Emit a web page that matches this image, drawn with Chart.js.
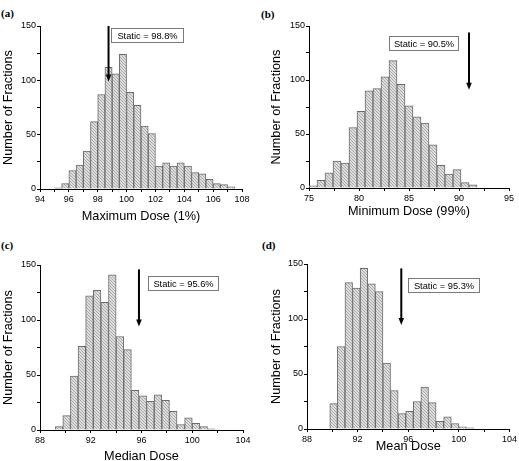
<!DOCTYPE html>
<html>
<head>
<meta charset="utf-8">
<script src="https://cdn.jsdelivr.net/npm/chart.js@4.4.1/dist/chart.umd.min.js"></script>
<style>
html, body { margin: 0; padding: 0; background: #fff; width: 519px; height: 461px; overflow: hidden; position: relative; }
canvas { position: absolute; }
.tag { position: absolute; font: bold 11px "Liberation Serif", "Times New Roman", serif; color: #000; }
</style>
</head>
<body>
<div class="tag" style="left:1px;top:7px">(a)</div>
<div class="tag" style="left:261px;top:8px">(b)</div>
<div class="tag" style="left:1px;top:239px">(c)</div>
<div class="tag" style="left:262px;top:239px">(d)</div>
<canvas id="chartMax" width="259" height="230" style="left:0;top:0"></canvas>
<canvas id="chartMin" width="260" height="230" style="left:259px;top:0"></canvas>
<canvas id="chartMedian" width="259" height="240" style="left:0;top:230px"></canvas>
<canvas id="chartMean" width="260" height="240" style="left:259px;top:230px"></canvas>
<script>
// ── dados (centros das classes e contagens) ──────────────────────────────────
const maxDoseBins   = [95.25, 95.75, 96.25, 96.75, 97.25, 97.75, 98.25, 98.75, 99.25, 99.75,
                       100.25, 100.75, 101.25, 101.75, 102.25, 102.75, 103.25, 103.75, 104.25,
                       104.75, 105.25, 105.75, 106.25, 106.75, 107.25];
const maxDoseCounts = [1, 5, 17, 22, 35, 62, 87, 112, 106, 124, 89, 77, 58, 51, 21, 24, 21, 24,
                       21, 15, 14, 9, 5, 4, 2];

const minDoseBins   = [75.4, 76.2, 77.0, 77.8, 78.6, 79.4, 80.2, 81.0, 81.8, 82.6, 83.4, 84.2,
                       85.0, 85.8, 86.6, 87.4, 88.2, 89.0, 89.8, 90.6, 91.4];
const minDoseCounts = [2, 7, 14, 25, 23, 56, 71, 90, 92, 103, 118, 96, 76, 66, 60, 40, 21, 13,
                       17, 5, 3];

const medianDoseBins   = [89.5, 90.1, 90.7, 91.3, 91.9, 92.5, 93.1, 93.7, 94.3, 94.9, 95.5,
                          96.1, 96.7, 97.3, 97.9, 98.5, 99.1, 99.7, 100.3, 100.9, 101.5];
const medianDoseCounts = [3, 13, 49, 76, 122, 127, 116, 141, 85, 73, 36, 31, 26, 32, 27, 17,
                          5, 11, 6, 3, 1];

const meanDoseBins   = [90.1, 90.7, 91.3, 91.9, 92.5, 93.1, 93.7, 94.3, 94.9, 95.5, 96.1,
                        96.7, 97.3, 97.9, 98.5, 99.1, 99.7, 100.3, 100.9];
const meanDoseCounts = [23, 75, 133, 128, 146, 132, 125, 60, 35, 14, 16, 25, 38, 24, 7, 11,
                        5, 2, 1];

// valor "static" indicado em cada painel e onde a seta está desenhada
const staticLabels = ['Static = 98.8%', 'Static = 90.5%', 'Static = 95.6%', 'Static = 95.3%'];
const arrowX       = [98.75, 91.0, 95.8, 95.45];
const arrowTop     = [150, 144, 146, 146];
const arrowTip     = [99, 91, 94, 94.5];

const yTicks = [0, 50, 100, 150];

const FONT = '"Liberation Sans", Arial, sans-serif';

// padrão tracejado fino das barras (cinzento claro com riscas "\")
function makeHatch() {
  const c = document.createElement('canvas');
  c.width = 3; c.height = 3;
  const g = c.getContext('2d');
  g.fillStyle = '#dddddd';
  g.fillRect(0, 0, 3, 3);
  g.fillStyle = '#ababab';
  for (let i = 0; i < 3; i++) g.fillRect(i, i, 1, 1);
  return g.createPattern(c, 'repeat');
}
const hatch = makeHatch();

// seta + caixa de texto "Static = ..."
const staticMark = {
  id: 'staticMark',
  afterDatasetsDraw(chart, args, o) {
    const { ctx, scales: { x, y } } = chart;
    const px = x.getPixelForValue(o.x);
    const top = y.getPixelForValue(o.top);
    const tip = y.getPixelForValue(o.tip);
    ctx.save();
    ctx.strokeStyle = '#000';
    ctx.fillStyle = '#000';
    ctx.lineWidth = 2;
    ctx.beginPath();
    ctx.moveTo(px, top);
    ctx.lineTo(px, tip - 6);
    ctx.stroke();
    ctx.beginPath();
    ctx.moveTo(px - 2.8, tip - 7);
    ctx.lineTo(px + 2.8, tip - 7);
    ctx.lineTo(px, tip);
    ctx.closePath();
    ctx.fill();

    const b = o.box;
    ctx.fillStyle = '#fff';
    ctx.fillRect(b.x, b.y, b.w, b.h);
    ctx.strokeStyle = '#7a7a7a';
    ctx.lineWidth = 1;
    ctx.strokeRect(b.x + 0.5, b.y + 0.5, b.w - 1, b.h - 1);
    ctx.fillStyle = '#000';
    ctx.font = '9.3px ' + FONT;
    ctx.textAlign = 'center';
    ctx.textBaseline = 'middle';
    ctx.fillText(o.label, b.x + b.w / 2, b.y + b.h / 2 + 0.5);
    ctx.restore();
  }
};

function axisGrid() {
  return { display: true, drawOnChartArea: false, drawTicks: true, tickLength: 3, tickColor: '#000', tickWidth: 1 };
}

function histChart(id, p) {
  return new Chart(document.getElementById(id), {
    type: 'bar',
    data: {
      datasets: [{
        data: p.bins.map((b, i) => ({ x: b, y: p.counts[i] })),
        backgroundColor: hatch,
        borderColor: '#6b6b6b',
        borderWidth: 1,
        borderSkipped: 'start',
        barPercentage: 1,
        categoryPercentage: 1
      }]
    },
    options: {
      responsive: false,
      animation: false,
      devicePixelRatio: 1,
      layout: { padding: { left: 0, right: p.padRight, top: p.padTop, bottom: 0 } },
      plugins: {
        legend: { display: false },
        tooltip: { enabled: false },
        staticMark: p.mark
      },
      scales: {
        x: {
          type: 'linear',
          offset: false,
          min: p.xMin,
          max: p.xMax,
          afterFit: s => { s.height = p.xAxisH; },
          border: { display: true, color: '#000', width: 1 },
          grid: Object.assign(axisGrid(), { offset: false }),
          ticks: {
            stepSize: p.xStep,
            autoSkip: false,
            maxRotation: 0,
            padding: 2,
            color: '#000',
            font: { family: FONT, size: 9 },
            callback: v => p.xLabels.includes(v) ? String(v) : ''
          },
          title: {
            display: true,
            text: p.xTitle,
            color: '#000',
            font: { family: FONT, size: 12.7 },
            padding: { top: 0, bottom: p.xTitlePad }
          }
        },
        y: {
          min: 0,
          max: 150,
          afterFit: s => { s.width = p.yAxisW; },
          border: { display: true, color: '#000', width: 1 },
          grid: axisGrid(),
          ticks: {
            stepSize: 25,
            autoSkip: false,
            padding: 1,
            color: '#000',
            font: { family: FONT, size: 9 },
            callback: v => yTicks.includes(v) ? String(v) : ''
          },
          title: {
            display: true,
            text: 'Number of Fractions',
            color: '#000',
            font: { family: FONT, size: 12.7 },
            padding: { top: p.yTitlePad, bottom: 0 }
          }
        }
      }
    },
    plugins: [staticMark]
  });
}

histChart('chartMax', {
  bins: maxDoseBins, counts: maxDoseCounts,
  xMin: 94, xMax: 108, xStep: 1, xLabels: [94, 96, 98, 100, 102, 104, 106, 108],
  xTitle: 'Maximum Dose (1%)',
  padRight: 17, padTop: 26, xAxisH: 41, yAxisW: 40, xTitlePad: 6, yTitlePad: 1,
  mark: { x: arrowX[0], top: arrowTop[0], tip: arrowTip[0], label: staticLabels[0],
          box: { x: 111, y: 28, w: 73, h: 15 } }
});

histChart('chartMin', {
  bins: minDoseBins, counts: minDoseCounts,
  xMin: 75, xMax: 95, xStep: 2.5, xLabels: [75, 80, 85, 90, 95],
  xTitle: 'Minimum Dose (99%)',
  padRight: 10, padTop: 26, xAxisH: 42, yAxisW: 50, xTitlePad: 11, yTitlePad: 10,
  mark: { x: arrowX[1], top: arrowTop[1], tip: arrowTip[1], label: staticLabels[1],
          box: { x: 130, y: 36, w: 70, h: 15 } }
});

histChart('chartMedian', {
  bins: medianDoseBins, counts: medianDoseCounts,
  xMin: 88, xMax: 104, xStep: 2, xLabels: [88, 92, 96, 100, 104],
  xTitle: 'Median Dose',
  padRight: 16, padTop: 35, xAxisH: 40, yAxisW: 40, xTitlePad: 6, yTitlePad: 1,
  mark: { x: arrowX[2], top: arrowTop[2], tip: arrowTip[2], label: staticLabels[2],
          box: { x: 148, y: 46, w: 71, h: 15 } }
});

histChart('chartMean', {
  bins: meanDoseBins, counts: meanDoseCounts,
  xMin: 88, xMax: 104, xStep: 2, xLabels: [88, 92, 96, 100, 104],
  xTitle: 'Mean Dose',
  padRight: 9, padTop: 34, xAxisH: 41, yAxisW: 48, xTitlePad: 16, yTitlePad: 10,
  mark: { x: arrowX[3], top: arrowTop[3], tip: arrowTip[3], label: staticLabels[3],
          box: { x: 149, y: 48, w: 72, h: 15 } }
});
</script>
</body>
</html>
